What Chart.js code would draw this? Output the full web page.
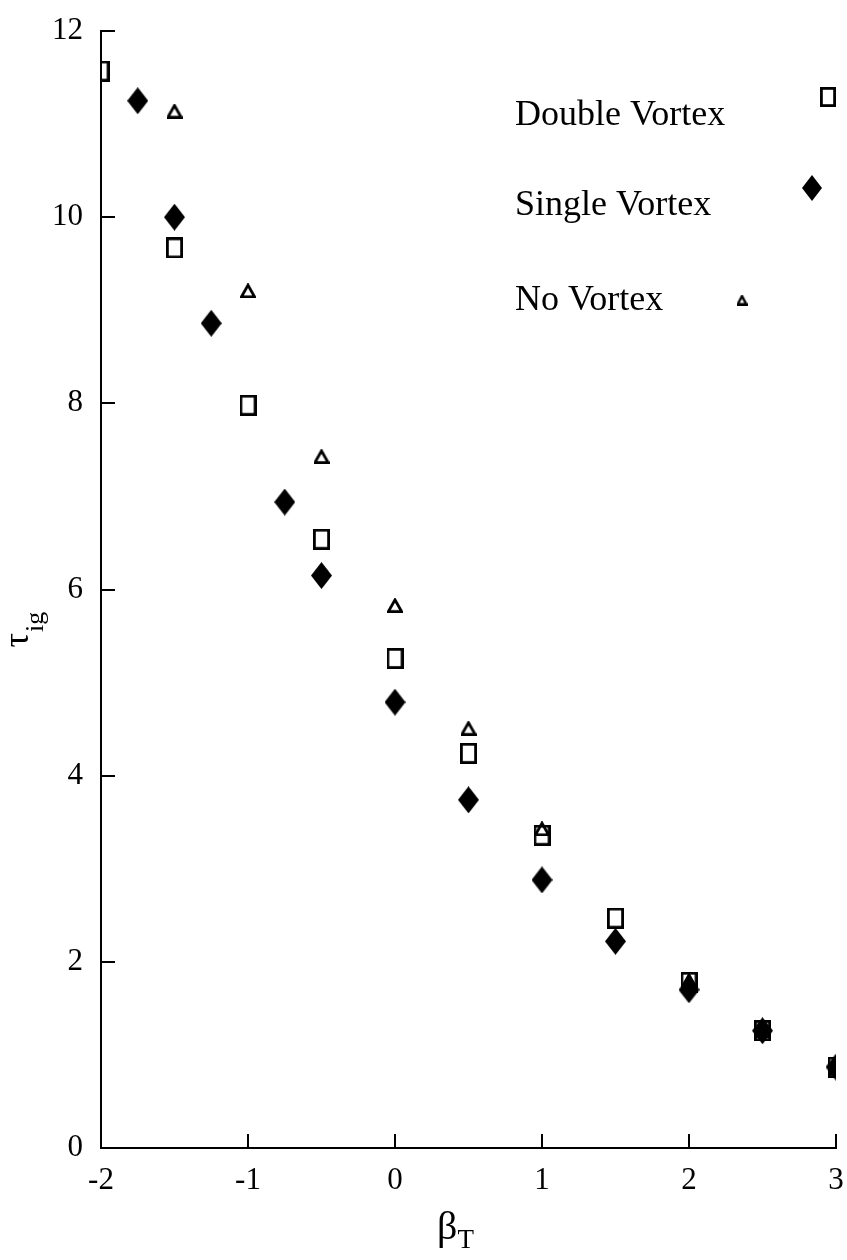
<!DOCTYPE html>
<html>
<head>
<meta charset="utf-8">
<script src="https://cdn.jsdelivr.net/npm/chart.js@4.4.0/dist/chart.umd.min.js"></script>
<style>
  html, body { margin: 0; padding: 0; background: #fff; }
  canvas { display: block; }
</style>
</head>
<body>
<canvas id="c" width="847" height="1260"></canvas>
<script>
// Ignition delay tau_ig versus beta_T for three vortex configurations
const doubleX = [-2, -1.5, -1, -0.5, 0, 0.5, 1, 1.5, 2, 2.5, 3];
const doubleY = [11.57, 9.67, 7.98, 6.54, 5.26, 4.24, 3.36, 2.47, 1.78, 1.26, 0.87];

const singleX = [-1.75, -1.5, -1.25, -0.75, -0.5, 0, 0.5, 1, 1.5, 2, 2.5, 3];
const singleY = [11.25, 10.0, 8.86, 6.94, 6.15, 4.79, 3.74, 2.88, 2.22, 1.70, 1.26, 0.87];

const noneX = [-1.5, -1, -0.5, 0, 0.5, 1, 2, 2.5, 3];
const noneY = [11.14, 9.21, 7.43, 5.83, 4.51, 3.43, 1.80, 1.26, 0.87];

const xTicks = [-2, -1, 0, 1, 2, 3];
const yTicks = [0, 2, 4, 6, 8, 10, 12];

const seriesNames = ['Double Vortex', 'Single Vortex', 'No Vortex'];

const SERIF = "'Liberation Serif', 'Times New Roman', serif";

const pairs = (xs, ys) => xs.map((x, i) => ({ x: x, y: ys[i] }));

// Marker glyphs drawn once on small canvases
function squareMark(w, h, lw) {
  const c = document.createElement('canvas');
  c.width = w; c.height = h;
  const g = c.getContext('2d');
  g.strokeStyle = '#000'; g.lineWidth = lw;
  g.strokeRect(lw / 2, lw / 2, w - lw, h - lw);
  return c;
}
function diamondMark(w, h) {
  const c = document.createElement('canvas');
  c.width = w; c.height = h;
  const g = c.getContext('2d');
  g.fillStyle = '#000';
  g.beginPath();
  g.moveTo(w / 2, 0); g.lineTo(w, h / 2); g.lineTo(w / 2, h); g.lineTo(0, h / 2);
  g.closePath(); g.fill();
  return c;
}
function triangleMark(w, h, lw) {
  const c = document.createElement('canvas');
  c.width = w; c.height = h;
  const g = c.getContext('2d');
  g.strokeStyle = '#000'; g.lineWidth = lw; g.lineJoin = 'miter';
  g.beginPath();
  g.moveTo(w / 2, lw * 0.7); g.lineTo(w - lw / 2, h - lw / 2); g.lineTo(lw / 2, h - lw / 2);
  g.closePath(); g.stroke();
  return c;
}

const marks = {
  square: squareMark(17, 21, 2.8),
  diamond: diamondMark(21, 27),
  triangle: triangleMark(16, 15, 2.8)
};
const legendMarks = {
  square: squareMark(16, 20, 2.8),
  diamond: diamondMark(20, 26),
  triangle: triangleMark(11, 11, 2.4)
};

// Inward tick marks on the left and bottom axes
const innerTicks = {
  id: 'innerTicks',
  afterDraw(chart) {
    const { ctx, chartArea: a, scales } = chart;
    ctx.save();
    ctx.strokeStyle = '#000';
    ctx.lineWidth = 2;
    const len = 14;
    scales.x.ticks.forEach(t => {
      const px = Math.round(scales.x.getPixelForValue(t.value));
      ctx.beginPath(); ctx.moveTo(px, a.bottom); ctx.lineTo(px, a.bottom - len); ctx.stroke();
    });
    scales.y.ticks.forEach(t => {
      const py = Math.round(scales.y.getPixelForValue(t.value));
      ctx.beginPath(); ctx.moveTo(a.left, py); ctx.lineTo(a.left + len, py); ctx.stroke();
    });
    ctx.restore();
  }
};

// Axis titles with subscripts
const axisTitles = {
  id: 'axisTitles',
  afterDraw(chart) {
    const { ctx, chartArea: a } = chart;
    ctx.save();
    ctx.fillStyle = '#000';
    ctx.textBaseline = 'alphabetic';
    ctx.textAlign = 'left';

    // beta_T under the x axis
    const bigX = '40px ' + SERIF, subX = '27px ' + SERIF;
    ctx.font = bigX; const wb = ctx.measureText('β').width;
    ctx.font = subX; const wt = ctx.measureText('T').width;
    const cx = (a.left + a.right) / 2 - 13;
    const x0 = cx - (wb + wt) / 2;
    const by = a.bottom + 91;
    ctx.font = bigX; ctx.fillText('β', x0, by);
    ctx.font = subX; ctx.fillText('T', x0 + wb, by + 9);

    // tau_ig beside the y axis, reading upward
    ctx.translate(a.left - 73, (a.top + a.bottom) / 2 + 58);
    ctx.rotate(-Math.PI / 2);
    ctx.font = '36px ' + SERIF;
    const wtau = ctx.measureText('τ').width;
    ctx.fillText('τ', 0, 0);
    ctx.font = '26px ' + SERIF;
    ctx.fillText('ig', wtau + 1, 15);
    ctx.restore();
  }
};

// Legend: text on the left, marker placed to its right
const legendBlock = {
  id: 'legendBlock',
  afterDraw(chart) {
    const { ctx, chartArea: a } = chart;
    const entries = [
      { text: seriesNames[0], mark: legendMarks.square,   dy: 94,  mx: 727, my: 66 },
      { text: seriesNames[1], mark: legendMarks.diamond,  dy: 184, mx: 711, my: 157 },
      { text: seriesNames[2], mark: legendMarks.triangle, dy: 279, mx: 641, my: 269 }
    ];
    ctx.save();
    ctx.fillStyle = '#000';
    ctx.font = '36px ' + SERIF;
    ctx.textBaseline = 'alphabetic';
    ctx.textAlign = 'left';
    const tx = a.left + 414;
    entries.forEach(e => {
      ctx.fillText(e.text, tx, a.top + e.dy);
      ctx.drawImage(e.mark, a.left + e.mx - e.mark.width / 2, a.top + e.my - e.mark.height / 2);
    });
    ctx.restore();
  }
};

const tickFont = { family: SERIF, size: 31 };

new Chart(document.getElementById('c'), {
  type: 'scatter',
  data: {
    datasets: [
      { label: seriesNames[1], data: pairs(singleX, singleY), pointStyle: marks.diamond, pointRadius: 10, order: 0, clip: 0 },
      { label: seriesNames[2], data: pairs(noneX, noneY), pointStyle: marks.triangle, pointRadius: 8, order: 1, clip: 0 },
      { label: seriesNames[0], data: pairs(doubleX, doubleY), pointStyle: marks.square, pointRadius: 10, order: 2, clip: 0 }
    ]
  },
  options: {
    responsive: false,
    animation: false,
    events: [],
    devicePixelRatio: 1,
    layout: { padding: { top: 31, right: 8, left: 0, bottom: 0 } },
    plugins: {
      legend: { display: false },
      tooltip: { enabled: false },
      title: { display: false }
    },
    scales: {
      x: {
        type: 'linear',
        min: -2, max: 3,
        afterBuildTicks: s => { s.ticks = xTicks.map(v => ({ value: v })); },
        afterFit: s => { s.height = 112; s.paddingLeft = 0; s.paddingRight = 0; },
        grid: { display: false, drawTicks: false },
        border: { display: true, color: '#000', width: 2 },
        ticks: { color: '#000', font: tickFont, padding: 14, maxRotation: 0, autoSkip: false },
        title: { display: false }
      },
      y: {
        type: 'linear',
        min: 0, max: 12,
        afterBuildTicks: s => { s.ticks = yTicks.map(v => ({ value: v })); },
        afterFit: s => { s.width = 101; s.paddingTop = 0; s.paddingBottom = 0; },
        grid: { display: false, drawTicks: false },
        border: { display: true, color: '#000', width: 2 },
        ticks: { color: '#000', font: tickFont, padding: 18, autoSkip: false },
        title: { display: false }
      }
    }
  },
  plugins: [innerTicks, axisTitles, legendBlock]
});
</script>
</body>
</html>
